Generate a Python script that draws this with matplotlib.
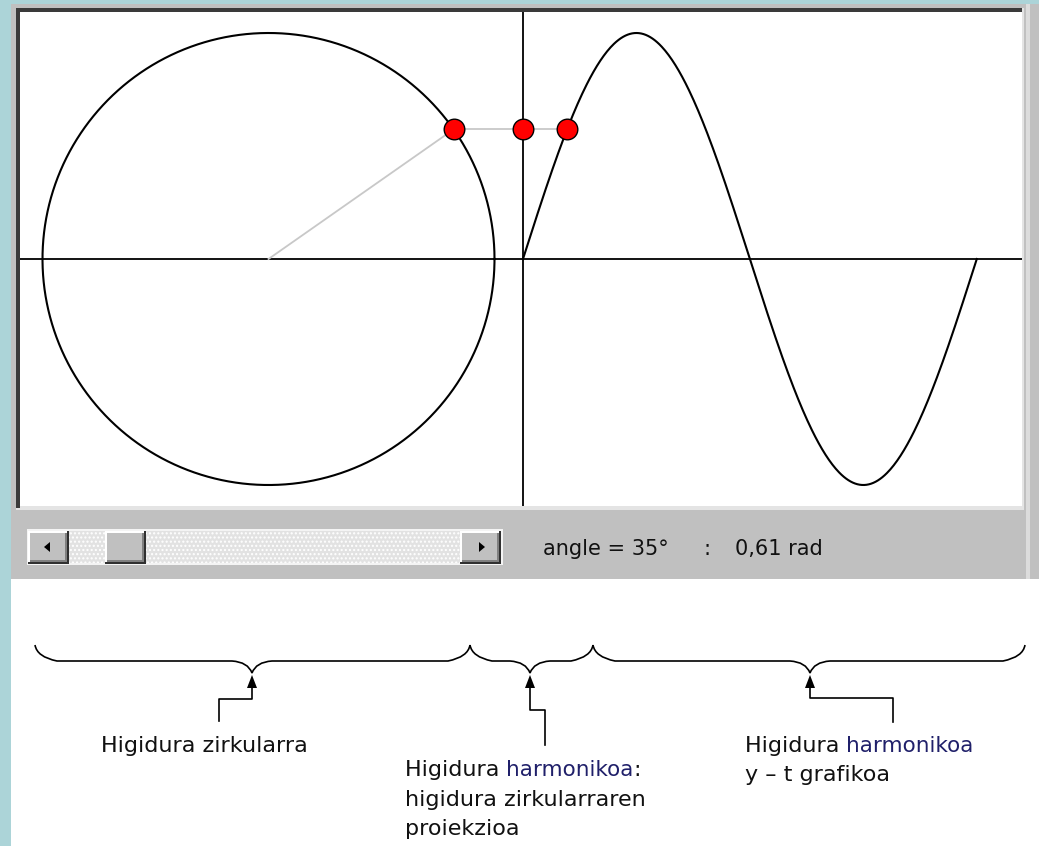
import numpy as np
import matplotlib.pyplot as plt
from matplotlib.patches import Rectangle, Polygon, PathPatch
from matplotlib.path import Path

# state of the applet
angle_deg = 35
angle_rad_text = "0,61"
radius = 1.0
turn_width = 2.008          # horizontal length of one full turn in the y-t graph
sine_x0 = 1.126             # where the y-t graph starts (vertical axis)

# labels under the braces
label_circ = "Higidura zirkularra"
label_proj = ["Higidura ", "harmonikoa", ":", "higidura zirkularraren", "proiekzioa"]
label_graph = ["Higidura ", "harmonikoa", "y \u2013 t grafikoa"]

# brace spans (pixels of the screenshot): left, tip, right
braces = [(35, 252, 470), (470, 530, 593), (593, 810, 1025)]

W, H = 1039, 846
fig = plt.figure(figsize=(W / 100, H / 100), dpi=100)
fig.patch.set_facecolor("white")

# background layer in pixel coordinates
bg = fig.add_axes([0, 0, 1, 1])
bg.set_xlim(0, W)
bg.set_ylim(H, 0)
bg.axis("off")

teal = "#acd4d8"
gray = "#c0c0c0"
bg.add_patch(Rectangle((0, 0), 11, H, color=teal, lw=0))
bg.add_patch(Rectangle((0, 0), W, 4, color=teal, lw=0))
bg.add_patch(Rectangle((11, 4), W - 11, 575, color=gray, lw=0))
bg.add_patch(Rectangle((1026, 4), 4, 575, color="#dcdcdc", lw=0))
# sunken frame of the drawing area
bg.add_patch(Rectangle((16, 8), 1008, 502, color="#e4e4e4", lw=0))
bg.add_patch(Rectangle((16, 8), 1006, 4, color="#3a3a3a", lw=0))
bg.add_patch(Rectangle((16, 8), 4, 500, color="#3a3a3a", lw=0))

# scrollbar
bg.add_patch(Rectangle((27, 529), 476, 36, color="#f4f4f4", lw=0))
bg.add_patch(Rectangle((68, 531), 392, 32, facecolor="#e2e2e2", edgecolor="#ffffff",
                       hatch="....", lw=0))


def button(x, y, w, h):
    bg.add_patch(Rectangle((x, y), w, h, color="#303030", lw=0))
    bg.add_patch(Rectangle((x, y), w - 2, h - 2, color="#ffffff", lw=0))
    bg.add_patch(Rectangle((x + 2, y + 2), w - 4, h - 4, color="#808080", lw=0))
    bg.add_patch(Rectangle((x + 2, y + 2), w - 6, h - 6, color=gray, lw=0))


button(28, 531, 41, 33)
button(105, 531, 41, 33)
button(460, 531, 41, 33)
bg.add_patch(Polygon([[44, 547], [50, 542], [50, 552]], color="black", lw=0))
bg.add_patch(Polygon([[485, 547], [479, 542], [479, 552]], color="black", lw=0))

# readout of the angle
rf = dict(fontsize=15, family="DejaVu Sans", va="center", ha="left", color="#111111")
bg.text(543, 549, f"angle = {angle_deg}\u00b0", **rf)
bg.text(703, 549, ":", **rf)
bg.text(735, 549, f"{angle_rad_text} rad", **rf)

# braces
y0 = 661


def brace(x1, xm, x2):
    verts = [(x1, y0 - 16), (x1 + 2, y0 - 4), (x1 + 22, y0),
             (xm - 20, y0), (xm - 4, y0 + 1), (xm, y0 + 12),
             (xm + 4, y0 + 1), (xm + 20, y0),
             (x2 - 22, y0), (x2 - 2, y0 - 4), (x2, y0 - 16)]
    codes = [Path.MOVETO, Path.CURVE3, Path.CURVE3,
             Path.LINETO, Path.CURVE3, Path.CURVE3,
             Path.CURVE3, Path.CURVE3,
             Path.LINETO, Path.CURVE3, Path.CURVE3]
    bg.add_patch(PathPatch(Path(verts, codes), fill=False, lw=1.2, color="black"))
    bg.add_patch(Polygon([[xm, y0 + 14], [xm - 5, y0 + 27], [xm + 5, y0 + 27]],
                         color="black", lw=0))


for x1, xm, x2 in braces:
    brace(x1, xm, x2)

# leader lines
bg.plot([252, 252, 219, 219], [688, 699, 699, 721], color="black", lw=1.2)
bg.plot([530, 530, 545, 545], [688, 710, 710, 745], color="black", lw=1.2)
bg.plot([810, 810, 893, 893], [688, 698, 698, 722], color="black", lw=1.2)

fs = 16
fam = "DejaVu Sans"
navy = "#20206a"
bg.text(101, 746, label_circ, fontsize=fs, family=fam, va="center", color="#111111")

t1 = bg.text(405, 770, label_proj[0], fontsize=fs, family=fam, va="center", color="#111111")
fig.canvas.draw()
r = fig.canvas.get_renderer()


def after(txt, s, color, yy, size):
    bb = txt.get_window_extent(r)
    x = bg.transData.inverted().transform((bb.x1, 0))[0]
    return bg.text(x, yy, s, fontsize=size, family=fam, va="center", color=color)


t2 = after(t1, label_proj[1], navy, 770, fs - 0.5)
after(t2, label_proj[2], "#111111", 770, fs)
bg.text(405, 800, label_proj[3], fontsize=fs, family=fam, va="center", color="#111111")
bg.text(405, 829, label_proj[4], fontsize=fs, family=fam, va="center", color="#111111")

t3 = bg.text(745, 746, label_graph[0], fontsize=fs, family=fam, va="center", color="#111111")
after(t3, label_graph[1], navy, 746, fs - 0.5)
bg.text(745, 775, label_graph[2], fontsize=fs, family=fam, va="center", color="#111111")

# drawing area in data units (circle radius = 1)
px = 226.0
cx = 268.5
ax = fig.add_axes([20 / W, 1 - 506 / H, 1002 / W, 494 / H])
ax.set_xlim(-(cx - 20) / px, (1022 - cx) / px)
ax.set_ylim(-247 / px, 247 / px)
ax.set_facecolor("white")
ax.set_xticks([])
ax.set_yticks([])
for s in ax.spines.values():
    s.set_visible(False)

ax.axhline(0, color="black", lw=1.3)
ax.axvline(sine_x0, color="black", lw=1.3)

th = np.linspace(0, 2 * np.pi, 400)
ax.plot(radius * np.cos(th), radius * np.sin(th), color="black", lw=1.5)
ax.plot(sine_x0 + turn_width * th / (2 * np.pi), radius * np.sin(th), color="black", lw=1.5)

a = np.deg2rad(angle_deg)
px_c, py_c = radius * np.cos(a), radius * np.sin(a)
px_s = sine_x0 + turn_width * a / (2 * np.pi)
ax.plot([0, px_c], [0, py_c], color="#c8c8c8", lw=1.3)
ax.plot([px_c, px_s], [py_c, py_c], color="#c8c8c8", lw=1.3)
ax.scatter([px_c, sine_x0, px_s], [py_c, py_c, py_c], s=220, color="#ff0000",
           edgecolor="black", linewidth=1, zorder=5)

fig.savefig("out.png", dpi=100)
